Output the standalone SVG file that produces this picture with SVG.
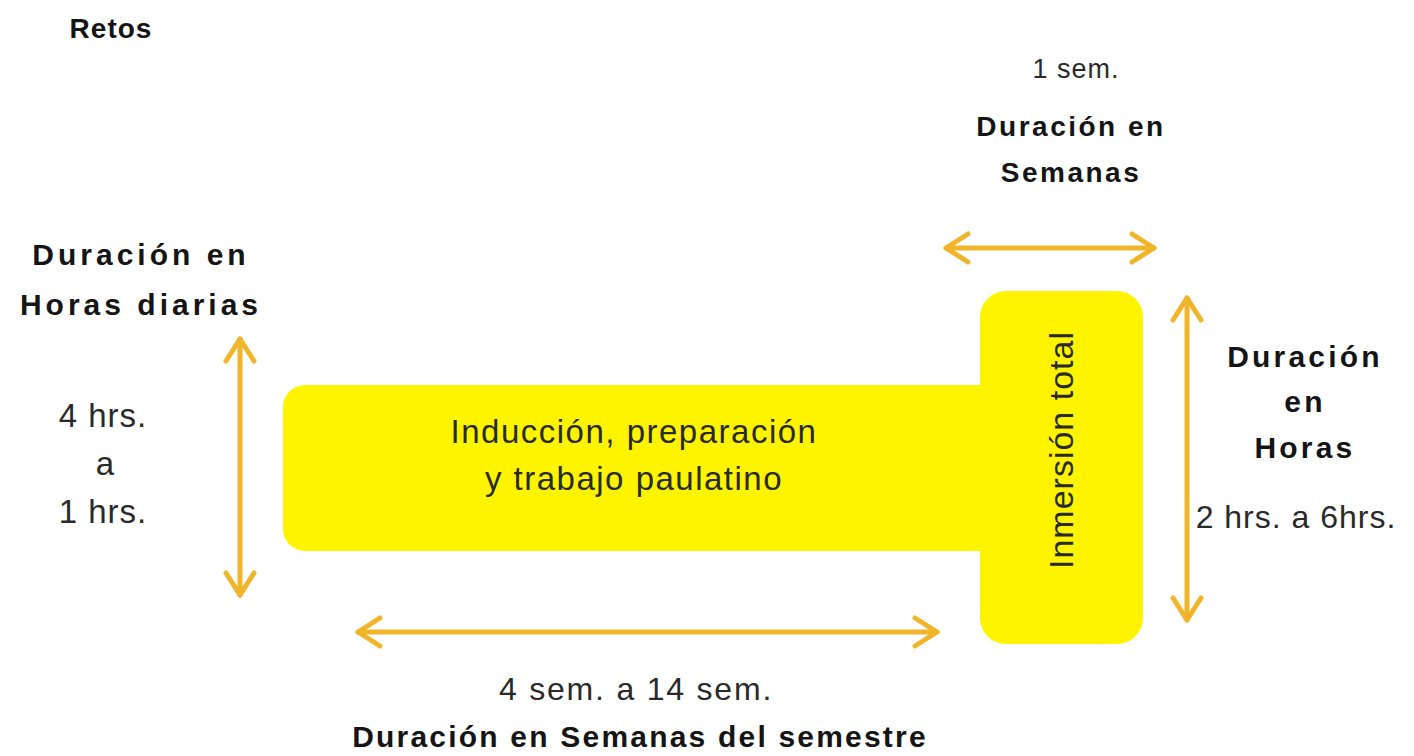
<svg xmlns="http://www.w3.org/2000/svg" width="1414" height="756" viewBox="0 0 1414 756">
<style>
.b{font-family:"Liberation Sans",Arial,sans-serif;font-weight:bold;fill:#151515;text-anchor:middle}
.r{font-family:"Liberation Sans",Arial,sans-serif;fill:#2a2a2a;text-anchor:middle}
.ar{stroke:#F0B52A;stroke-width:5;fill:none;stroke-linecap:round;marker-start:url(#h);marker-end:url(#h)}
.box{fill:#FEF400}
</style>
<defs>
<marker id="h" markerUnits="userSpaceOnUse" viewBox="-30 -20 34 40" markerWidth="34" markerHeight="40" refX="0" refY="0" orient="auto-start-reverse">
<path d="M-22,-14 L0,0 L-22,14" fill="none" stroke="#F0B52A" stroke-width="5" stroke-linecap="round" stroke-linejoin="round"/>
</marker>
</defs>
<rect width="1414" height="756" fill="#fff"/>
<text class="b" x="111" y="38" font-size="28" letter-spacing="1">Retos</text>
<g id="induccion">
<rect class="box" x="283" y="385" width="730" height="166" rx="22"/>
<text class="r" x="634" y="443" font-size="33" letter-spacing="1.5">Inducción, preparación</text>
<text class="r" x="634" y="490" font-size="33" letter-spacing="1.5">y trabajo paulatino</text>
</g>
<g id="inmersion">
<rect class="box" x="980" y="291" width="163" height="353" rx="26"/>
<text class="r" x="0" y="0" font-size="34" letter-spacing="1" transform="translate(1073,450) rotate(-90)">Inmersión total</text>
</g>
<g id="connectors">
<line class="ar" x1="946" y1="248" x2="1154" y2="248"/>
<line class="ar" x1="1187" y1="298" x2="1187" y2="620"/>
<line class="ar" x1="240" y1="339" x2="240" y2="595"/>
<line class="ar" x1="358" y1="632" x2="937" y2="632"/>
</g>
<g id="labels-top">
<text class="r" x="1076" y="78" font-size="27" letter-spacing="1">1 sem.</text>
<text class="b" x="1071" y="136" font-size="28" letter-spacing="2.5">Duración en</text>
<text class="b" x="1071" y="182" font-size="28" letter-spacing="2.5">Semanas</text>
</g>
<g id="labels-left">
<text class="b" x="141" y="265" font-size="30" letter-spacing="4">Duración en</text>
<text class="b" x="141" y="315" font-size="30" letter-spacing="4">Horas diarias</text>
<text class="r" x="103" y="427" font-size="33" letter-spacing="1">4 hrs.</text>
<text class="r" x="105" y="475" font-size="33">a</text>
<text class="r" x="103" y="523" font-size="33" letter-spacing="1">1 hrs.</text>
</g>
<g id="labels-right">
<text class="b" x="1305" y="367" font-size="30" letter-spacing="3.2">Duración</text>
<text class="b" x="1305" y="412" font-size="30" letter-spacing="3.2">en</text>
<text class="b" x="1305" y="458" font-size="30" letter-spacing="3.2">Horas</text>
<text class="r" x="1296" y="528" font-size="32" letter-spacing="1">2 hrs. a 6hrs.</text>
</g>
<g id="labels-bottom">
<text class="r" x="636" y="700" font-size="32" letter-spacing="1.8">4 sem. a 14 sem.</text>
<text class="b" x="640" y="747" font-size="30" letter-spacing="2.2">Duración en Semanas del semestre</text>
</g>
</svg>
